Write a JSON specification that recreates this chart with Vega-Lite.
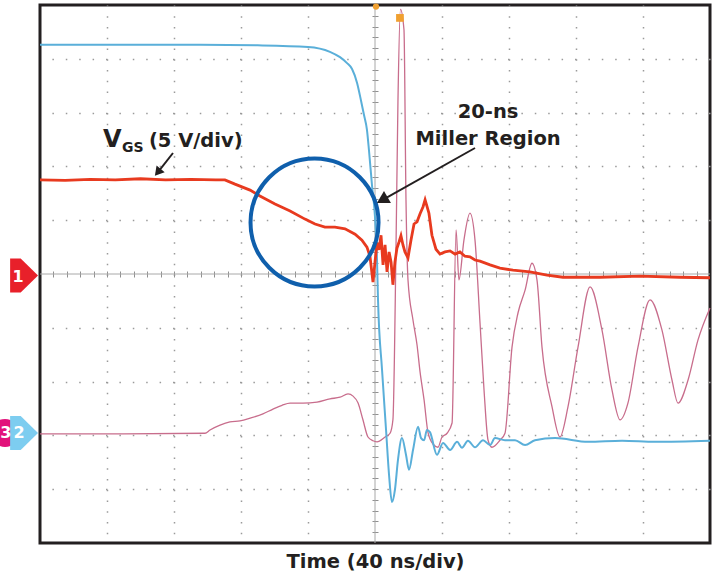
{
"$schema": "https://vega.github.io/schema/vega-lite/v6.json",
"width": 670, "height": 538,
"autosize": {"type": "none"},
"padding": {"left": 40, "top": 5, "right": 5, "bottom": 34},
"background": "white",
"config": {"view": {"stroke": "#231f20", "strokeWidth": 3}, "font": "DejaVu Sans"},
"datasets": {
"blue": [{"t":-200,"v":4.26},{"t":-150,"v":4.26},{"t":-104.5,"v":4.26},{"t":-70,"v":4.25},{"t":-40,"v":4.22},{"t":-26.9,"v":4.13},{"t":-20.9,"v":4.03},{"t":-16.7,"v":3.92},{"t":-13.7,"v":3.81},{"t":-10.7,"v":3.55},{"t":-8.4,"v":3.23},{"t":-6.6,"v":2.96},{"t":-4.8,"v":2.68},{"t":-3.6,"v":2.30},{"t":-1.8,"v":1.65},{"t":0,"v":1.06},{"t":1.2,"v":0.26},{"t":1.8,"v":-0.48},{"t":4.2,"v":-1.78},{"t":6.6,"v":-2.90},{"t":8.4,"v":-3.74},{"t":10.1,"v":-4.24},{"t":11.9,"v":-4.01},{"t":13.7,"v":-3.46},{"t":16.1,"v":-3.05},{"t":18.5,"v":-3.36},{"t":20.3,"v":-3.64},{"t":22.7,"v":-3.27},{"t":25.7,"v":-2.84},{"t":27.5,"v":-3.05},{"t":29.3,"v":-3.09},{"t":31.0,"v":-2.90},{"t":32.8,"v":-2.94},{"t":37.0,"v":-3.36},{"t":40.6,"v":-3.14},{"t":44.8,"v":-3.27},{"t":49.0,"v":-3.12},{"t":51.9,"v":-3.23},{"t":55.5,"v":-3.10},{"t":59.7,"v":-3.22},{"t":64.5,"v":-3.09},{"t":68.7,"v":-3.18},{"t":71.6,"v":-3.05},{"t":77.6,"v":-3.09},{"t":83.6,"v":-3.09},{"t":89.6,"v":-3.18},{"t":95.5,"v":-3.09},{"t":107.5,"v":-3.05},{"t":127.2,"v":-3.12},{"t":147.5,"v":-3.10},{"t":167.2,"v":-3.12},{"t":200,"v":-3.10}],
"red": [{"t":-200,"v":1.75},{"t":-185,"v":1.74},{"t":-170,"v":1.76},{"t":-155,"v":1.75},{"t":-140,"v":1.77},{"t":-125,"v":1.75},{"t":-110,"v":1.76},{"t":-95,"v":1.75},{"t":-89.6,"v":1.75},{"t":-83.6,"v":1.67},{"t":-74.6,"v":1.56},{"t":-68.7,"v":1.45},{"t":-59.7,"v":1.30},{"t":-50.7,"v":1.17},{"t":-41.8,"v":1.02},{"t":-35.8,"v":0.93},{"t":-29.9,"v":0.87},{"t":-23.9,"v":0.87},{"t":-17.9,"v":0.84},{"t":-11.9,"v":0.74},{"t":-7.8,"v":0.63},{"t":-4.8,"v":0.50},{"t":-3.0,"v":0.33},{"t":-1.2,"v":-0.15},{"t":0,"v":0.22},{"t":1.2,"v":0.58},{"t":2.4,"v":0.45},{"t":3.6,"v":0.72},{"t":4.8,"v":0.17},{"t":6.0,"v":0.54},{"t":7.2,"v":0.04},{"t":8.4,"v":0.41},{"t":9.6,"v":0.22},{"t":10.7,"v":-0.20},{"t":11.9,"v":0.22},{"t":13.1,"v":0.48},{"t":14.3,"v":0.59},{"t":15.5,"v":0.71},{"t":16.7,"v":0.54},{"t":17.9,"v":0.41},{"t":19.7,"v":0.30},{"t":21.5,"v":0.63},{"t":23.3,"v":0.93},{"t":25.1,"v":0.97},{"t":26.9,"v":1.12},{"t":28.7,"v":1.25},{"t":29.9,"v":1.38},{"t":31.0,"v":1.26},{"t":32.2,"v":1.13},{"t":34.0,"v":0.72},{"t":36.4,"v":0.46},{"t":38.8,"v":0.37},{"t":41.8,"v":0.41},{"t":44.8,"v":0.43},{"t":47.8,"v":0.37},{"t":50.7,"v":0.41},{"t":53.7,"v":0.33},{"t":56.7,"v":0.32},{"t":59.7,"v":0.26},{"t":62.7,"v":0.24},{"t":68.7,"v":0.17},{"t":74.6,"v":0.11},{"t":82.4,"v":0.07},{"t":92.5,"v":0.04},{"t":102.7,"v":-0.02},{"t":112.2,"v":-0.06},{"t":134.3,"v":-0.06},{"t":158.2,"v":-0.04},{"t":182.1,"v":-0.06},{"t":200,"v":-0.07}],
"pink": [{"t":-200,"v":-2.97},{"t":-150,"v":-2.97},{"t":-101.5,"v":-2.96},{"t":-98.5,"v":-2.90},{"t":-92.5,"v":-2.81},{"t":-86.6,"v":-2.75},{"t":-80.6,"v":-2.73},{"t":-74.6,"v":-2.68},{"t":-66.9,"v":-2.60},{"t":-60.9,"v":-2.51},{"t":-55.5,"v":-2.44},{"t":-50.7,"v":-2.40},{"t":-43.0,"v":-2.40},{"t":-34.6,"v":-2.38},{"t":-26.9,"v":-2.32},{"t":-20.9,"v":-2.29},{"t":-16.1,"v":-2.23},{"t":-13.1,"v":-2.27},{"t":-10.1,"v":-2.40},{"t":-7.2,"v":-2.71},{"t":-4.2,"v":-3.03},{"t":-1.2,"v":-3.10},{"t":1.2,"v":-3.12},{"t":6.0,"v":-3.03},{"t":9.0,"v":-2.96},{"t":10.7,"v":-2.71},{"t":12.5,"v":0.4},{"t":13.7,"v":3.2},{"t":15.2,"v":4.92},{"t":17.3,"v":4.54},{"t":18.5,"v":1.38},{"t":19.7,"v":-0.11},{"t":22.7,"v":-0.86},{"t":25.1,"v":-1.32},{"t":26.9,"v":-1.82},{"t":29.3,"v":-2.34},{"t":31.6,"v":-2.94},{"t":34.6,"v":-3.16},{"t":37.6,"v":-3.22},{"t":40.0,"v":-3.03},{"t":43.0,"v":-2.96},{"t":46.0,"v":-2.77},{"t":48.4,"v":0.82},{"t":50.1,"v":-0.11},{"t":53.1,"v":0.63},{"t":56.7,"v":1.13},{"t":59.7,"v":0.63},{"t":62.7,"v":-0.91},{"t":65.1,"v":-2.16},{"t":67.5,"v":-3.09},{"t":69.8,"v":-3.22},{"t":74.6,"v":-3.09},{"t":77.6,"v":-2.96},{"t":81.8,"v":-1.36},{"t":85.4,"v":-0.72},{"t":89.6,"v":-0.30},{"t":93.7,"v":0.20},{"t":96.7,"v":-0.11},{"t":99.7,"v":-1.36},{"t":105.7,"v":-2.47},{"t":110.4,"v":-3.03},{"t":115.2,"v":-2.47},{"t":121.2,"v":-1.36},{"t":128.4,"v":-0.24},{"t":135.5,"v":-1.04},{"t":141.5,"v":-2.16},{"t":146.3,"v":-2.71},{"t":151.0,"v":-2.40},{"t":157.0,"v":-1.36},{"t":164.2,"v":-0.48},{"t":171.3,"v":-1.04},{"t":177.3,"v":-1.97},{"t":180.9,"v":-2.40},{"t":186.9,"v":-1.97},{"t":192.8,"v":-1.23},{"t":200,"v":-0.63}]
},
"resolve": {"axis": {"x": "independent", "y": "independent"}},
"layer": [
{"data": {"values": [{"v": 0}]}, "mark": {"type": "rule", "color": "#a8a8a8", "strokeWidth": 1},
 "encoding": {"y": {"field": "v", "type": "quantitative", "scale": {"domain": [-5, 5], "nice": false, "zero": false}, "axis": null}}},
{"data": {"values": [{"t": 0}]}, "mark": {"type": "rule", "color": "#a8a8a8", "strokeWidth": 1},
 "encoding": {"x": {"field": "t", "type": "quantitative", "scale": {"domain": [-200, 200], "nice": false, "zero": false}, "axis": null}}},
{"data": {"name": "pink"}, "mark": {"type": "line", "color": "#c86d8c", "strokeWidth": 1.3, "interpolate": "monotone"},
 "encoding": {
  "x": {"field": "t", "type": "quantitative", "scale": {"domain": [-200, 200], "nice": false, "zero": false}, "axis": null},
  "y": {"field": "v", "type": "quantitative", "scale": {"domain": [-5, 5], "nice": false, "zero": false},
   "axis": {"orient": "left", "offset": -338, "values": [-4.8,-4.6,-4.4,-4.2,-4,-3.8,-3.6,-3.4,-3.2,-3,-2.8,-2.6,-2.4,-2.2,-2,-1.8,-1.6,-1.4,-1.2,-1,-0.8,-0.6,-0.4,-0.2,0,0.2,0.4,0.6,0.8,1,1.2,1.4,1.6,1.8,2,2.2,2.4,2.6,2.8,3,3.2,3.4,3.6,3.8,4,4.2,4.4,4.6,4.8], "ticks": true, "tickSize": 6, "tickColor": "#909090", "tickWidth": 1, "labels": false, "domain": false, "grid": false, "title": null}}}},
{"data": {"name": "blue"}, "mark": {"type": "line", "color": "#5aafd9", "strokeWidth": 2, "interpolate": "monotone"},
 "encoding": {
  "x": {"field": "t", "type": "quantitative", "scale": {"domain": [-200, 200], "nice": false, "zero": false},
   "axis": {"values": [-160,-120,-80,-40,40,80,120,160], "grid": true, "gridColor": "#9a9a9a", "gridDash": [1.5, 9.26], "gridWidth": 1.5, "ticks": false, "labels": false, "domain": false, "title": "Time (40 ns/div)", "titleFont": "DejaVu Sans", "titleFontWeight": "bold", "titleFontSize": 19.5, "titleColor": "#231f20", "titlePadding": 9}},
  "y": {"field": "v", "type": "quantitative", "scale": {"domain": [-5, 5], "nice": false, "zero": false},
   "axis": {"values": [-4,-3,-2,-1,1,2,3,4], "grid": true, "gridColor": "#9a9a9a", "gridDash": [1.5, 11.9], "gridWidth": 1.5, "ticks": false, "labels": false, "domain": false, "title": null}}}},
{"data": {"name": "red"}, "mark": {"type": "line", "color": "#e83a1f", "strokeWidth": 2.8},
 "encoding": {
  "x": {"field": "t", "type": "quantitative", "scale": {"domain": [-200, 200], "nice": false, "zero": false},
   "axis": {"orient": "bottom", "offset": -272, "values": [-192,-184,-176,-168,-160,-152,-144,-136,-128,-120,-112,-104,-96,-88,-80,-72,-64,-56,-48,-40,-32,-24,-16,-8,0,8,16,24,32,40,48,56,64,72,80,88,96,104,112,120,128,136,144,152,160,168,176,184,192], "ticks": true, "tickSize": 6, "tickColor": "#909090", "tickWidth": 1, "labels": false, "domain": false, "grid": false, "title": null}},
  "y": {"field": "v", "type": "quantitative", "scale": {"domain": [-5, 5], "nice": false, "zero": false}, "axis": null}}},
{"data": {"values": [{"t": -36.1, "v": 0.957}]}, "mark": {"type": "point", "shape": "circle", "filled": false, "stroke": "#0f5fac", "strokeWidth": 4, "size": 16384, "opacity": 1},
 "encoding": {"x": {"field": "t", "type": "quantitative", "axis": null}, "y": {"field": "v", "type": "quantitative", "axis": null}}},
{"data": {"values": [{"t": -120.6, "v": 2.249, "t2": -129.7, "v2": 1.890}, {"t": 59.7, "v": 2.342, "t2": 4.3, "v2": 1.375}]}, "mark": {"type": "rule", "color": "#231f20", "strokeWidth": 2},
 "encoding": {"x": {"field": "t", "type": "quantitative", "axis": null}, "y": {"field": "v", "type": "quantitative", "axis": null}, "x2": {"field": "t2"}, "y2": {"field": "v2"}}},
{"data": {"values": [{"t": -129.7, "v": 1.890}]}, "mark": {"type": "point", "shape": "triangle-up", "filled": true, "color": "#231f20", "opacity": 1, "size": 110, "angle": 219.3},
 "encoding": {"x": {"field": "t", "type": "quantitative", "axis": null}, "y": {"field": "v", "type": "quantitative", "axis": null}}},
{"data": {"values": [{"t": 4.3, "v": 1.375}]}, "mark": {"type": "point", "shape": "triangle-up", "filled": true, "color": "#231f20", "opacity": 1, "size": 196, "angle": 240.2},
 "encoding": {"x": {"field": "t", "type": "quantitative", "axis": null}, "y": {"field": "v", "type": "quantitative", "axis": null}}},
{"data": {"values": [{"t": -220.9, "v": -2.955}]}, "mark": {"type": "point", "shape": "circle", "filled": true, "color": "#e2127b", "opacity": 1, "size": 784},
 "encoding": {"x": {"field": "t", "type": "quantitative", "axis": null}, "y": {"field": "v", "type": "quantitative", "axis": null}}},
{"data": {"values": [{"t": -209.5, "v": -2.955}]}, "mark": {"type": "point", "shape": "M-0.82,-1L-0.2,-1L0.82,0L-0.2,1L-0.82,1Z", "filled": true, "color": "#7dcdf0", "opacity": 1, "size": 1156},
 "encoding": {"x": {"field": "t", "type": "quantitative", "axis": null}, "y": {"field": "v", "type": "quantitative", "axis": null}}},
{"data": {"values": [{"t": -209.5, "v": -0.03}]}, "mark": {"type": "point", "shape": "M-0.82,-1L-0.2,-1L0.82,0L-0.2,1L-0.82,1Z", "filled": true, "color": "#e8202a", "opacity": 1, "size": 1156},
 "encoding": {"x": {"field": "t", "type": "quantitative", "axis": null}, "y": {"field": "v", "type": "quantitative", "axis": null}}},
{"data": {"values": [{"t": -213.1, "v": -0.05, "label": "1"}, {"t": -212.5, "v": -2.955, "label": "2"}, {"t": -220.4, "v": -2.955, "label": "3"}]}, "mark": {"type": "text", "color": "white", "font": "DejaVu Sans", "fontWeight": "bold", "fontSize": 16, "align": "center", "baseline": "middle"},
 "encoding": {"x": {"field": "t", "type": "quantitative", "axis": null}, "y": {"field": "v", "type": "quantitative", "axis": null}, "text": {"field": "label"}}},
{"data": {"values": [{"t": 14.9, "v": 4.76}]}, "mark": {"type": "point", "shape": "square", "filled": true, "color": "#f0a030", "opacity": 1, "size": 60},
 "encoding": {"x": {"field": "t", "type": "quantitative", "axis": null}, "y": {"field": "v", "type": "quantitative", "axis": null}}},
{"data": {"values": [{"t": 0.6, "v": 4.97}]}, "mark": {"type": "point", "shape": "circle", "filled": true, "color": "#f0a030", "opacity": 1, "size": 40},
 "encoding": {"x": {"field": "t", "type": "quantitative", "axis": null}, "y": {"field": "v", "type": "quantitative", "axis": null}}},
{"data": {"values": [{"t": -162.4, "v": 2.361, "label": "V"}]}, "mark": {"type": "text", "color": "#231f20", "font": "DejaVu Sans", "fontWeight": "bold", "fontSize": 24, "align": "left", "baseline": "alphabetic"},
 "encoding": {"x": {"field": "t", "type": "quantitative", "axis": null}, "y": {"field": "v", "type": "quantitative", "axis": null}, "text": {"field": "label"}}},
{"data": {"values": [{"t": -151.0, "v": 2.268, "label": "GS"}]}, "mark": {"type": "text", "color": "#231f20", "font": "DejaVu Sans", "fontWeight": "bold", "fontSize": 14, "align": "left", "baseline": "alphabetic"},
 "encoding": {"x": {"field": "t", "type": "quantitative", "axis": null}, "y": {"field": "v", "type": "quantitative", "axis": null}, "text": {"field": "label"}}},
{"data": {"values": [{"t": -135.0, "v": 2.361, "label": "(5 V/div)"}]}, "mark": {"type": "text", "color": "#231f20", "font": "DejaVu Sans", "fontWeight": "bold", "fontSize": 19.5, "align": "left", "baseline": "alphabetic"},
 "encoding": {"x": {"field": "t", "type": "quantitative", "axis": null}, "y": {"field": "v", "type": "quantitative", "axis": null}, "text": {"field": "label"}}},
{"data": {"values": [{"t": 67.5, "v": 2.900, "label": "20-ns"}, {"t": 67.5, "v": 2.398, "label": "Miller Region"}]}, "mark": {"type": "text", "color": "#231f20", "font": "DejaVu Sans", "fontWeight": "bold", "fontSize": 19.5, "align": "center", "baseline": "alphabetic"},
 "encoding": {"x": {"field": "t", "type": "quantitative", "axis": null}, "y": {"field": "v", "type": "quantitative", "axis": null}, "text": {"field": "label"}}}
]
}
